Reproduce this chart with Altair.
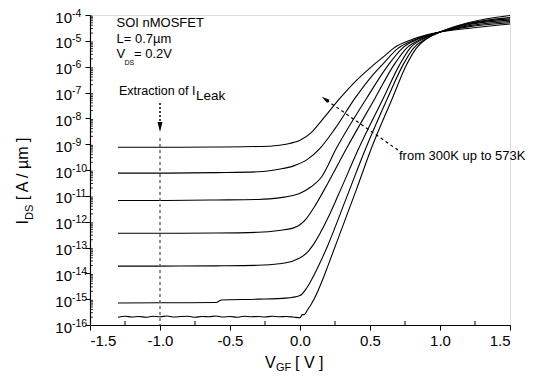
import altair as alt
import pandas as pd

FONT = "Liberation Sans"

# ---------------- data (V_GF in V, log10 of I_DS in A/um) -------------
# curves ordered from highest leakage (573K) to lowest leakage (300K)
c1_v = [-1.3, -1.0, -0.6, -0.3, -0.2, -0.1, 0.0, 0.08, 0.16, 0.286, 0.4, 0.524, 0.6, 0.667, 0.8, 0.9, 1.0, 1.2, 1.5]
c1_log = [-9.12, -9.12, -9.11, -9.09, -9.07, -9.0, -8.85, -8.55, -8.05, -7.22, -6.55, -5.94, -5.6, -5.29, -4.95, -4.78, -4.66, -4.52, -4.35]

c2_v = [-1.3, -1.0, -0.6, -0.3, -0.15, -0.05, 0.05, 0.143, 0.25, 0.393, 0.5, 0.585, 0.7, 0.8, 0.9, 1.0, 1.2, 1.5]
c2_log = [-10.12, -10.12, -10.1, -10.07, -9.97, -9.85, -9.6, -9.16, -8.4, -7.22, -6.45, -5.94, -5.29, -5.0, -4.8, -4.66, -4.46, -4.30]

c3_v = [-1.3, -1.0, -0.6, -0.3, -0.15, 0.0, 0.08, 0.15, 0.26, 0.476, 0.63, 0.73, 0.85, 1.0, 1.2, 1.5]
c3_log = [-11.18, -11.18, -11.16, -11.14, -11.08, -10.9, -10.65, -10.3, -9.16, -7.22, -5.94, -5.29, -4.92, -4.66, -4.42, -4.25]

c4_v = [-1.3, -1.0, -0.6, -0.3, -0.15, -0.05, 0.0, 0.05, 0.1, 0.2, 0.333, 0.536, 0.67, 0.76, 0.87, 1.0, 1.2, 1.5]
c4_log = [-12.45, -12.45, -12.44, -12.41, -12.34, -12.25, -12.12, -11.85, -11.45, -10.5, -9.16, -7.22, -5.94, -5.29, -4.92, -4.66, -4.38, -4.2]

c5_v = [-1.3, -1.0, -0.6, -0.3, -0.15, -0.05, 0.0, 0.05, 0.1, 0.2, 0.275, 0.42, 0.595, 0.71, 0.785, 0.89, 1.0, 1.2, 1.5]
c5_log = [-13.72, -13.72, -13.71, -13.69, -13.63, -13.52, -13.4, -13.2, -12.85, -11.85, -10.95, -9.16, -7.22, -5.94, -5.29, -4.9, -4.66, -4.35, -4.15]

c6_v = [-1.3, -1.0, -0.6, -0.56, -0.3, -0.1, 0.0, 0.05, 0.12, 0.2, 0.33, 0.47, 0.625, 0.735, 0.81, 0.9, 1.0, 1.2, 1.5]
c6_log = [-15.15, -15.14, -15.13, -15.03, -15.0, -14.96, -14.86, -14.55, -13.85, -12.9, -11.1, -9.16, -7.22, -5.94, -5.29, -4.92, -4.66, -4.33, -4.1]

c7_v = [-1.3, -1.25, -1.2, -1.15, -1.1, -1.05, -1.0, -0.95, -0.9, -0.85, -0.8, -0.75, -0.7, -0.65,
        -0.6, -0.55, -0.5, -0.45, -0.4, -0.35, -0.3, -0.25, -0.2, -0.15, -0.1, -0.05, 0.0,
        0.015, 0.03, 0.05, 0.1, 0.15, 0.2, 0.3, 0.4, 0.51, 0.66, 0.76, 0.83, 0.91, 1.0, 1.2, 1.5]
c7_log = [-15.70, -15.66, -15.69, -15.67, -15.70, -15.66, -15.68, -15.65, -15.69, -15.67, -15.66, -15.70, -15.67, -15.68,
          -15.65, -15.69, -15.67, -15.70, -15.66, -15.68, -15.67, -15.69, -15.66, -15.68, -15.67, -15.69, -15.72,
          -15.6, -15.6, -15.45, -15.0, -14.4, -13.7, -12.25, -10.8, -9.16, -7.22, -5.94, -5.29, -4.9, -4.66, -4.3, -4.02]

curves = [("T1", c1_v, c1_log), ("T2", c2_v, c2_log), ("T3", c3_v, c3_log), ("T4", c4_v, c4_log),
          ("T5", c5_v, c5_log), ("T6", c6_v, c6_log), ("T7", c7_v, c7_log)]

# axis ticks
x_major = [-1.5, -1.0, -0.5, 0.0, 0.5, 1.0, 1.5]
x_minor = [-1.25, -0.75, -0.25, 0.25, 0.75, 1.25]
y_exps = list(range(-16, -3))
y_minor_mult = [2, 3, 4, 5, 6, 7, 8, 9]

# annotation arrows (data coordinates)
arrow1_v = [-1.0, -1.0]
arrow1_log = [-7.41, -8.22]
arrow1_head = {"v": -1.0, "log": -8.336}
leak_line_v = -1.0
leak_line_log = [-8.76, -16.0]
arrow2_v = [0.70, 0.19]
arrow2_log = [-9.23, -7.30]
arrow2_head = {"v": 0.179, "log": -7.252}

# ---------------- build tables ----------------
rows = []
for name, vs, ls in curves:
    for k, (v, l) in enumerate(zip(vs, ls)):
        rows.append({"curve": name, "order": k, "v": v, "I": 10.0 ** l})
df = pd.DataFrame(rows)

x_scale = alt.Scale(domain=[-1.5, 1.5], nice=False, zero=False)
y_scale = alt.Scale(type="log", domain=[1e-16, 1e-4], nice=False)

x_axis = alt.Axis(
    values=x_major, title=None, grid=False,
    labelExpr="(datum.value < 0 ? '-' : '') + format(abs(datum.value), '.1f')",
    labelFont=FONT, labelFontSize=15, labelColor="black", labelPadding=3,
    tickSize=5, tickColor="black", tickWidth=1,
    domainColor="black", domainWidth=1.2)
y_axis = alt.Axis(
    values=[10.0 ** e for e in y_exps], title=None, grid=False, labels=False,
    tickSize=5, tickColor="black", tickWidth=1,
    domainColor="black", domainWidth=1.2)


def X(field="v:Q"):
    return alt.X(field, scale=x_scale, axis=x_axis)


def Y(field="I:Q"):
    return alt.Y(field, scale=y_scale, axis=y_axis)


lines = alt.Chart(df).mark_line(color="black", strokeWidth=1.1, interpolate="monotone").encode(
    x=X(), y=Y(), detail="curve:N", order="order:Q")

y_minor_df = pd.DataFrame({"I": [m * 10.0 ** e for e in range(-16, -4) for m in y_minor_mult]})
y_minor = alt.Chart(y_minor_df).mark_rule(color="black", strokeWidth=0.8).encode(
    y=Y(), x=alt.value(0), x2=alt.value(3))

x_minor_df = pd.DataFrame({"v": x_minor})
x_minor_r = alt.Chart(x_minor_df).mark_rule(color="black", strokeWidth=1).encode(
    x=X(), y=alt.value(310), y2=alt.value(306))

ylab_df = pd.DataFrame({"I": [10.0 ** e for e in y_exps], "base": ["10"] * len(y_exps),
                        "exp": [str(e) for e in y_exps]})
ylab_base = alt.Chart(ylab_df).mark_text(align="right", baseline="middle", font=FONT, fontSize=15,
                                         color="black", dy=2.5).encode(
    y=Y(), x=alt.value(-18), text="base:N")
ylab_exp = alt.Chart(ylab_df).mark_text(align="left", baseline="middle", font=FONT, fontSize=10.5,
                                        color="black", dy=-1.5).encode(
    y=Y(), x=alt.value(-18), text="exp:N")


def txt(s, x, y, size, angle=0):
    return alt.Chart(pd.DataFrame({"t": [s]})).mark_text(
        align="left", baseline="alphabetic", font=FONT, fontSize=size, angle=angle, color="black"
    ).encode(x=alt.value(x), y=alt.value(y), text="t:N")


texts = [
    # y title (reads bottom to top)
    txt("I", -62.5, 209.5, 16, 270),
    txt("DS", -57.5, 205, 11, 270),
    txt("[ A / µm ]", -62.5, 185.2, 16, 270),
    # x title
    txt("V", 175, 353, 16),
    txt("GF", 186, 355.5, 11),
    txt("[ V ]", 205, 353, 16),
    # annotations
    txt("SOI nMOSFET", 26.5, 11.7, 13),
    txt("L= 0.7µm", 26.5, 28.3, 13),
    txt("V", 26.5, 42.7, 13),
    txt("DS", 34.5, 50, 7),
    txt("= 0.2V", 44, 42.7, 13),
    txt("Extraction of I", 29, 80, 12.5),
    txt("Leak", 106, 84.5, 13.5),
    txt("from 300K up to 573K", 309, 145, 13),
]

a1 = alt.Chart(pd.DataFrame({"v": arrow1_v, "I": [10.0 ** l for l in arrow1_log]})).mark_line(
    color="black", strokeWidth=1.5, strokeDash=[2, 2]).encode(x=X(), y=Y())
a1h = alt.Chart(pd.DataFrame({"v": [arrow1_head["v"]], "I": [10.0 ** arrow1_head["log"]]})).mark_point(
    shape="M0,-1L0.5,1L-0.5,1Z", filled=True, color="black", opacity=1, size=100, angle=180,
    strokeWidth=0).encode(x=X(), y=Y())
vline = alt.Chart(pd.DataFrame({"v": [leak_line_v], "I": [10.0 ** leak_line_log[0]],
                                "I2": [10.0 ** leak_line_log[1]]})).mark_rule(
    color="#555555", strokeWidth=1.3, strokeDash=[3, 3]).encode(x=X(), y=Y(), y2="I2:Q")
a2 = alt.Chart(pd.DataFrame({"v": arrow2_v, "I": [10.0 ** l for l in arrow2_log]})).mark_line(
    color="black", strokeWidth=1.2, strokeDash=[3, 3]).encode(x=X(), y=Y())
a2h = alt.Chart(pd.DataFrame({"v": [arrow2_head["v"]], "I": [10.0 ** arrow2_head["log"]]})).mark_point(
    shape="M0,-1L0.5,1L-0.5,1Z", filled=True, color="black", opacity=1, size=64, angle=305,
    strokeWidth=0).encode(x=X(), y=Y())

chart = alt.layer(lines, y_minor, x_minor_r, vline, a1, a1h, a2, a2h, ylab_base, ylab_exp, *texts).properties(
    width=420, height=310, autosize="none",
    padding={"left": 82, "top": 7, "right": 22, "bottom": 48},
).configure_view(stroke=None).configure(background="white")

chart.save("out.html", embed_options={"renderer": "svg", "actions": False})
